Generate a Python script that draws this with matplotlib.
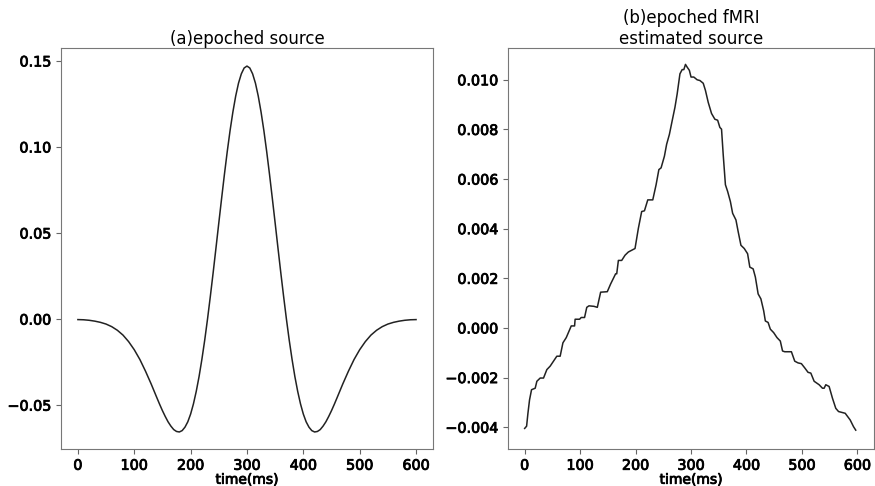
import matplotlib
matplotlib.use("Agg")
import matplotlib.pyplot as plt
import matplotlib.patheffects as pe

# (a) epoched source, first half (0-300 ms); the curve is symmetric about 300 ms
t_half = list(range(0, 150, 10)) + list(range(145, 305, 5))
src_half = [-0.0003, -0.0004, -0.0007, -0.0012, -0.0019, -0.0029, -0.0044, -0.0065,
            -0.0093, -0.0131, -0.0178, -0.0235, -0.0303, -0.0377, -0.0456,
            -0.0495, -0.0532, -0.0566, -0.0597, -0.0622, -0.0642, -0.0653, -0.0656,
            -0.0648, -0.0628, -0.0597, -0.0552, -0.0493, -0.0420, -0.0334, -0.0234,
            -0.0123, 0.0, 0.0132, 0.0270, 0.0413, 0.0558, 0.0701, 0.0841, 0.0973,
            0.1095, 0.1203, 0.1296, 0.1371, 0.1425, 0.1459, 0.1470]
t_src = t_half + [600 - t for t in t_half[-2::-1]]
src = src_half + src_half[-2::-1]

# (b) epoched fMRI estimated source
t_est = [0, 3.5, 5.9, 8.8, 12.4, 19, 22, 28, 34, 40, 46, 52, 58, 64, 69, 75, 84, 90, 91,
         99, 102, 108, 112, 116, 125, 131, 137, 149, 155, 164, 166, 169, 175, 181, 187,
         193, 199, 205, 211, 216, 222, 231, 237, 242, 246, 252, 256, 261, 266, 271, 275,
         280, 284, 287, 290, 293, 297, 300, 305, 311, 316, 322, 326, 331, 337, 343, 348,
         352, 355, 358, 362, 366, 371, 375, 381, 385, 390, 396, 402, 406, 412, 416, 421,
         426, 431, 434, 439, 443, 449, 455, 461, 465, 469, 481, 487, 493, 499, 505, 511,
         516, 522, 531, 537, 540, 543, 549, 555, 561, 566, 578, 587, 593, 597]
est = [-0.00405, -0.00396, -0.00344, -0.0029, -0.00249, -0.00243, -0.00215, -0.00202,
       -0.00202, -0.00168, -0.00154, -0.00134, -0.00114, -0.00114, -0.0006, -0.00039,
       0.00008, 0.00008, 0.00035, 0.00035, 0.00042, 0.00042, 0.00083, 0.00089, 0.00087,
       0.00083, 0.00144, 0.00146, 0.00177, 0.00218, 0.00218, 0.00272, 0.00272, 0.00293,
       0.00306, 0.00313, 0.0032, 0.00401, 0.00469, 0.00472, 0.00516, 0.00516, 0.00577,
       0.00638, 0.00645, 0.00692, 0.0074, 0.0078, 0.00835, 0.00889, 0.00943, 0.01024,
       0.01041, 0.01041, 0.01062, 0.01051, 0.01038, 0.01011, 0.01011, 0.0100, 0.00997,
       0.00986, 0.00957, 0.00909, 0.00864, 0.00841, 0.00837, 0.00808, 0.00801, 0.00699,
       0.00577, 0.0055, 0.00509, 0.00462, 0.00435, 0.00388, 0.00333, 0.0032, 0.00299,
       0.00245, 0.00238, 0.00205, 0.00137, 0.00117, 0.00069, 0.00028, 0.00022, -0.00005,
       -0.00019, -0.00039, -0.00053, -0.00093, -0.00096, -0.00096, -0.00134, -0.00141,
       -0.00144, -0.00161, -0.00179, -0.00182, -0.00215, -0.00229, -0.00243, -0.00243,
       -0.00229, -0.00236, -0.00283, -0.00324, -0.00337, -0.00344, -0.00371, -0.00398,
       -0.00412]

fig = plt.figure(figsize=(8.75, 4.86), dpi=100)
ax1 = fig.add_axes([0.0697, 0.0761, 0.4251, 0.8251])
ax2 = fig.add_axes([0.5806, 0.0761, 0.4183, 0.8251])

ax1.plot(t_src, src, color='#222222', lw=1.1)
ax1.set_title('(a)epoched source', fontsize=12, pad=3)
ax1.set_yticks([-0.05, 0.0, 0.05, 0.10, 0.15])
ax1.set_ylim(-0.0755, 0.1575)

ax2.plot(t_est, est, color='#222222', lw=1.1)
ax2.set_title('(b)epoched fMRI\nestimated source', fontsize=12, pad=3)
ax2.set_yticks([-0.004, -0.002, 0.0, 0.002, 0.004, 0.006, 0.008, 0.010])
ax2.set_ylim(-0.00488, 0.01128)

heavy = [pe.withStroke(linewidth=0.6, foreground='black')]
for ax in (ax1, ax2):
    ax.set_xlim(-30, 630)
    ax.set_xticks([0, 100, 200, 300, 400, 500, 600])
    ax.set_xlabel('time(ms)', fontsize=10, labelpad=0, path_effects=heavy)
    ax.tick_params(labelsize=10.3, color='#666666', length=3.5)
    for lab in ax.get_xticklabels() + ax.get_yticklabels():
        lab.set_path_effects(heavy)
    for s in ax.spines.values():
        s.set_color('#777777')

fig.savefig('out.png', dpi=100)
